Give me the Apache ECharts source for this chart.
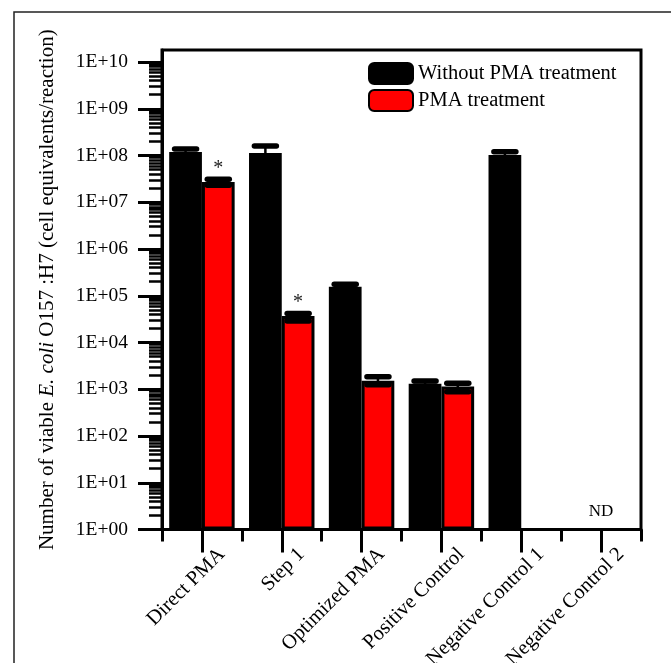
<!DOCTYPE html>
<html>
<head>
<meta charset="utf-8">
<script src="https://cdn.jsdelivr.net/npm/echarts@6/dist/echarts.min.js"></script>
<style>
html,body{margin:0;padding:0;background:#fff;}
#chart{width:671px;height:663px;}
</style>
</head>
<body>
<div id="chart"></div>
<script>
// ---- data ----
const categories = ['Direct PMA', 'Step 1', 'Optimized PMA', 'Positive Control', 'Negative Control 1', 'Negative Control 2'];
const seriesNames = ['Without PMA treatment', 'PMA treatment'];

const withoutPMA      = [1.19e8, 1.13e8, 1.56e5, 1.32e3, 1.03e8, null];
const withoutPMALow   = [1.00e8, 0.95e8, 1.38e5, 1.16e3, 0.88e8, null];
const withoutPMAHigh  = [1.38e8, 1.60e8, 1.77e5, 1.50e3, 1.20e8, null];

const pmaTreated      = [2.7e7, 3.7e4, 1.52e3, 1.14e3, null, null];
const pmaTreatedLow   = [2.3e7, 2.9e4, 1.25e3, 0.89e3, null, null];
const pmaTreatedHigh  = [3.1e7, 4.2e4, 1.86e3, 1.35e3, null, null];

const significance    = ['*', '*', '', '', '', ''];
const notDetected     = ['', '', '', '', '', 'ND'];

const yMajorTicks = [1, 10, 100, 1e3, 1e4, 1e5, 1e6, 1e7, 1e8, 1e9, 1e10];
const yMin = 1, yMax = 1.81e10;

// ---- helpers ----
const FONT = '"Liberation Serif", "Times New Roman", serif';
const yMinorTicks = [];
for (let k = 0; k < 10; k++) {
  for (let m = 2; m <= 9; m++) yMinorTicks.push(m * Math.pow(10, k));
}
const BAR_FRACTION = 0.41;

function fmtExp(v) {
  const e = Math.round(Math.log10(v));
  return '1E+' + (e < 10 ? '0' + e : '' + e);
}

function errorSeries(name, lows, highs, marks, side) {
  const data = [];
  categories.forEach((c, i) => { if (lows[i] != null && highs[i] != null) data.push([i]); });
  return {
    type: 'custom', name: name, xAxisIndex: 0, yAxisIndex: 0, z: 5, silent: true,
    data: data,
    renderItem: function (params, api) {
      const i = api.value(0);
      const base = api.coord([i, yMin]);
      const catW = api.coord([1, yMin])[0] - api.coord([0, yMin])[0];
      const bw = catW * BAR_FRACTION;
      const x = base[0] + side * bw / 2;
      const yHi = api.coord([i, highs[i]])[1];
      const yLo = api.coord([i, lows[i]])[1];
      const capHalf = 11;
      const capStyle = { stroke: '#000', lineWidth: 5.5, lineCap: 'round' };
      const children = [
        { type: 'line', shape: { x1: x, y1: yHi, x2: x, y2: yLo }, style: { stroke: '#000', lineWidth: 2.5 } },
        { type: 'line', shape: { x1: x - capHalf, y1: yHi, x2: x + capHalf, y2: yHi }, style: capStyle },
        { type: 'line', shape: { x1: x - capHalf, y1: yLo, x2: x + capHalf, y2: yLo }, style: capStyle }
      ];
      if (marks[i]) {
        children.push({
          type: 'text',
          style: { text: marks[i], x: x, y: yHi - 11, align: 'center', verticalAlign: 'middle',
                   fontFamily: FONT, fontSize: 20, fill: '#222' }
        });
      }
      return { type: 'group', children: children };
    }
  };
}

const notesSeries = {
  type: 'custom', name: 'notes', xAxisIndex: 0, yAxisIndex: 0, z: 6, silent: true,
  data: categories.map((c, i) => [i]).filter(d => notDetected[d[0]]),
  renderItem: function (params, api) {
    const i = api.value(0);
    const p = api.coord([i, yMin]);
    return {
      type: 'text',
      style: { text: notDetected[i], x: p[0], y: p[1] - 18, align: 'center', verticalAlign: 'middle',
               fontFamily: FONT, fontSize: 17, fill: '#000' }
    };
  }
};

const chart = echarts.init(document.getElementById('chart'), null, { renderer: 'canvas' });

const option = {
  animation: false,
  backgroundColor: '#fff',
  graphic: [{
    type: 'rect', silent: true, z: 0,
    shape: { x: 14, y: 12, width: 720, height: 720 },
    style: { fill: 'none', stroke: '#222', lineWidth: 1.5 }
  }],
  grid: {
    left: 162, right: 30, top: 50, bottom: 133.5,
    show: true, borderColor: '#000', borderWidth: 3,
    containLabel: false, outerBoundsMode: 'none'
  },
  legend: {
    data: seriesNames,
    orient: 'vertical',
    left: 368, top: 62, padding: 0,
    itemWidth: 44, itemHeight: 21, itemGap: 4,
    icon: 'roundRect',
    textStyle: { fontFamily: FONT, fontSize: 20.5, color: '#000' }
  },
  xAxis: [{
    type: 'category', data: categories, gridIndex: 0, position: 'bottom',
    axisLine: { show: true, lineStyle: { color: '#000', width: 3 } },
    axisTick: { show: true, alignWithLabel: false, interval: 0, length: 12, lineStyle: { color: '#000', width: 3 } },
    axisLabel: { show: false },
    splitLine: { show: false }
  }, {
    type: 'category', data: categories, gridIndex: 0, position: 'bottom',
    axisLine: { show: false },
    axisTick: { show: true, alignWithLabel: true, interval: 0, length: 23, lineStyle: { color: '#000', width: 3 } },
    axisLabel: {
      show: true, interval: 0, rotate: 45, margin: 2,
      align: 'right', verticalAlign: 'top', lineHeight: 56,
      fontFamily: FONT, fontSize: 20.5, color: '#000'
    },
    splitLine: { show: false }
  }],
  yAxis: [{
    type: 'log', logBase: 10, min: yMin, max: yMax, gridIndex: 0, position: 'left',
    name: 'Number of viable {i|E. coli} O157 :H7 (cell equivalents/reaction)',
    nameLocation: 'middle', nameGap: 104,
    nameTextStyle: {
      fontFamily: FONT, fontSize: 21, color: '#000',
      rich: { i: { fontFamily: FONT, fontSize: 21, fontStyle: 'italic', color: '#000' } }
    },
    axisLine: { show: true, lineStyle: { color: '#000', width: 3 } },
    axisTick: { show: true, length: 24, customValues: yMajorTicks, lineStyle: { color: '#000', width: 3 } },
    axisLabel: {
      customValues: yMajorTicks, margin: 34, formatter: fmtExp,
      fontFamily: FONT, fontSize: 19.5, color: '#000'
    },
    splitLine: { show: false },
    minorTick: { show: false }
  }, {
    type: 'log', logBase: 10, min: yMin, max: yMax, gridIndex: 0, position: 'left',
    axisLine: { show: false },
    axisTick: { show: true, length: 13, customValues: yMinorTicks, lineStyle: { color: '#000', width: 2.5 } },
    axisLabel: { show: false },
    splitLine: { show: false }
  }],
  series: [{
    name: seriesNames[0], type: 'bar', xAxisIndex: 0, yAxisIndex: 0,
    data: withoutPMA, barWidth: (BAR_FRACTION * 100) + '%', barGap: '0%',
    itemStyle: { color: '#000', borderColor: '#000', borderWidth: 3 }
  }, {
    name: seriesNames[1], type: 'bar', xAxisIndex: 0, yAxisIndex: 0,
    data: pmaTreated, barWidth: (BAR_FRACTION * 100) + '%', barGap: '0%',
    itemStyle: { color: '#ff0000', borderColor: '#000', borderWidth: 3 }
  },
    errorSeries('err-without', withoutPMALow, withoutPMAHigh, ['', '', '', '', '', ''], -1),
    errorSeries('err-pma', pmaTreatedLow, pmaTreatedHigh, significance, 1),
    notesSeries
  ]
};
chart.setOption(option);
</script>
</body>
</html>
